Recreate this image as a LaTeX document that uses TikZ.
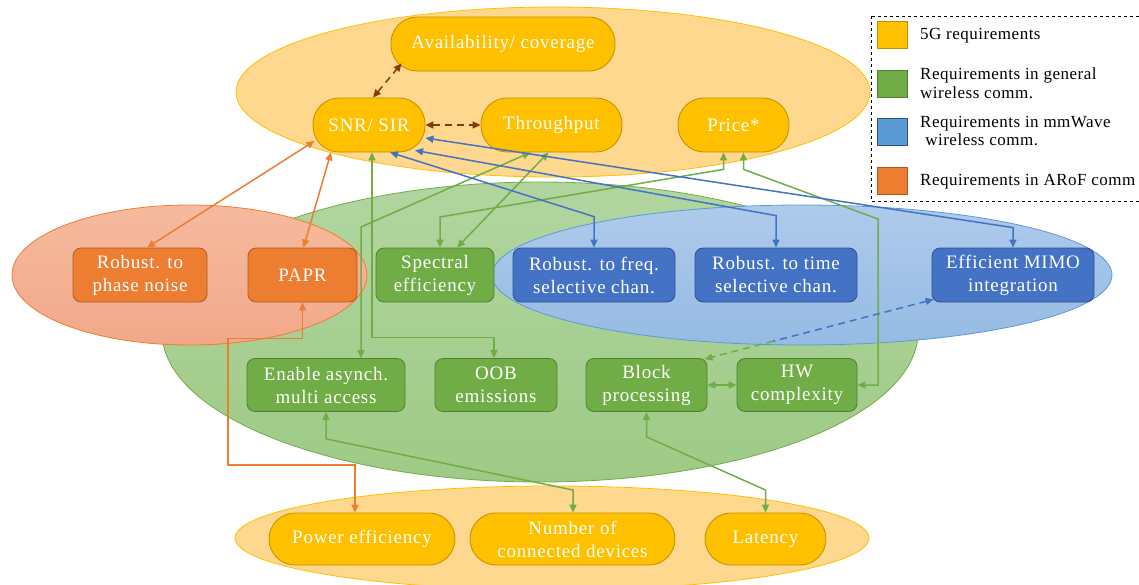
\documentclass[tikz,border=0pt]{standalone}
\usepackage{fontspec}
\setmainfont{Liberation Serif}
\usetikzlibrary{arrows.meta,calc}
\definecolor{yel}{HTML}{FFC000}
\definecolor{yelD}{HTML}{BF9000}
\definecolor{yelE}{RGB}{254,216,143}
\definecolor{grn}{HTML}{70AD47}
\definecolor{grnD}{HTML}{507E32}
\definecolor{grnT}{RGB}{178,213,160}
\definecolor{grnB}{RGB}{158,202,134}
\definecolor{blu}{HTML}{4472C4}
\definecolor{bluD}{HTML}{2F528F}
\definecolor{bluT}{RGB}{174,202,235}
\definecolor{bluB}{RGB}{150,187,228}
\definecolor{bluL}{HTML}{5B9BD5}
\definecolor{org}{HTML}{ED7D31}
\definecolor{orgD}{HTML}{AE5A21}
\definecolor{orgT}{RGB}{246,186,158}
\definecolor{orgB}{RGB}{242,168,138}
\definecolor{brn}{HTML}{843C0C}
\begin{document}
\begin{tikzpicture}[x=1pt,y=-1pt,
  every node/.style={font=\fontsize{19}{23}\selectfont\addfontfeatures{LetterSpace=4}, text=white, align=center, inner sep=0pt},
  pill/.style={draw=yelD, fill=yel, line width=0.8pt, rounded corners=26pt, minimum height=54pt},
  gbox/.style={draw=grnD, fill=grn, line width=0.8pt, rounded corners=8pt, minimum height=54pt},
  bbox/.style={draw=bluD, fill=blu, line width=0.8pt, rounded corners=8pt, minimum height=54pt},
  obox/.style={draw=orgD, fill=org, line width=0.8pt, rounded corners=8pt, minimum height=54pt},
  legsq/.style={line width=1pt, minimum width=30pt, minimum height=27pt},
  legtext/.style={text=black, font=\fontsize{17}{18.5}\selectfont\addfontfeatures{LetterSpace=3}, align=left, anchor=west},
  tip/.tip={Triangle[length=8pt,width=7pt]},
  con/.style={line width=1.5pt, tip-tip},
  dsh/.style={dash pattern=on 7pt off 5pt},
]
\useasboundingbox (0,0) rectangle (1139,584);

% ellipses
\shade[top color=grnT, bottom color=grnB, draw=grn, line width=0.8pt] (540,332) ellipse [x radius=378, y radius=150];
\shade[top color=orgT, bottom color=orgB, draw=org, line width=0.8pt] (189.5,275) ellipse [x radius=177.5, y radius=70];
\shade[top color=bluT, bottom color=bluB, draw=bluL, line width=0.8pt] (802,275) ellipse [x radius=310, y radius=70];
\fill[yelE, draw=yel, line width=0.8pt] (553,92) ellipse [x radius=317, y radius=85];
\fill[yelE, draw=yel, line width=0.8pt] (552,538) ellipse [x radius=317, y radius=52];

% nodes: top
\node[pill, minimum width=224pt] (avail) at (503,44) {Availability/ coverage};
\node[pill, minimum width=112pt] (snr) at (369,125) {SNR/ SIR};
\node[pill, minimum width=141pt] (thr) at (551.5,125) {Throughput};
\node[pill, minimum width=111pt] (price) at (733.5,125) {Price*};

% middle row
\node[obox, minimum width=134pt] (phase) at (140,275) {Robust. to\\phase noise};
\node[obox, minimum width=109pt] (papr) at (302.5,275) {PAPR};
\node[gbox, minimum width=118pt] (spec) at (435,275) {Spectral\\efficiency};
\node[bbox, minimum width=162pt] (freq) at (594,275) {Robust. to freq.\\selective chan.};
\node[bbox, minimum width=162pt] (time) at (776,275) {Robust. to time\\selective chan.};
\node[bbox, minimum width=162pt] (mimo) at (1013,275) {Efficient MIMO\\integration};

% lower green row
\node[gbox, minimum width=158pt, minimum height=53pt] (enable) at (326,385) {Enable asynch.\\multi access};
\node[gbox, minimum width=122pt, minimum height=53pt] (oob) at (496,385) {OOB\\emissions};
\node[gbox, minimum width=121pt, minimum height=53pt] (block) at (646.5,385) {Block\\processing};
\node[gbox, minimum width=120pt, minimum height=53pt] (hw) at (797,385) {HW\\complexity};

% bottom
\node[pill, minimum width=186pt, minimum height=52pt] (power) at (362,539) {Power efficiency};
\node[pill, minimum width=205pt, minimum height=52pt] (number) at (572.5,539) {Number of\\connected devices};
\node[pill, minimum width=121pt, minimum height=52pt] (latency) at (765.5,539) {Latency};

% legend
\draw[dashed, line width=0.8pt] (871,16) rectangle (1150,201);
\node[legsq, fill=yel, draw=yelD] (l1) at (892,35) {};
\node[legsq, fill=grn, draw=grnD] (l2) at (892,83.5) {};
\node[legsq, fill=bluL, draw=bluD] (l3) at (892,131.5) {};
\node[legsq, fill=org, draw=orgD] (l4) at (892,181) {};
\node[legtext] (t1) at (920,36) {5G requirements};
\node[legtext] (t2) at (920,83) {Requirements in general\\wireless comm.};
\node[legtext] (t3) at (920,131) {Requirements in mmWave\\\hspace{0.3em}wireless comm.};
\node[legtext] (t4) at (920,182) {Requirements in ARoF comm};

% brown dashed
\draw[con, brn, dsh] ([xshift=4pt]snr.north) -- ([xshift=11pt,yshift=8pt]avail.south west);
\draw[con, brn, dsh] (snr.east) -- (thr.west);

% orange
\draw[con, org] ([xshift=2pt,yshift=-16pt]snr.west) -- ([xshift=7pt]phase.north);
\draw[con, org] ([xshift=-38pt]snr.south) -- ([xshift=1pt]papr.north);
\draw[con, org] (papr.south) -- ++(0,36) -| (228,465) -| ([xshift=-7pt]power.north);

% green
\draw[con, grn] ([xshift=3pt]snr.south) -- ++(0,185) -| ([xshift=-2pt]oob.north);
\draw[con, grn] ([xshift=-21pt]thr.south) -- (361,227) -- ([xshift=35pt]enable.north);
\draw[con, grn] ([xshift=-3pt]thr.south) -- ([xshift=22pt]spec.north);
\draw[con, grn] ([xshift=-10pt]price.south) -- ++(0,17) -- (440,217) -- ([xshift=5pt]spec.north);
\draw[con, grn] ([xshift=10pt]price.south) -- ++(0,17) -- (878,219) |- (hw.east);
\draw[con, grn] (block.east) -- (hw.west);
\draw[con, grn] (enable.south) -- ++(0,27) -- (573,490) -- ([xshift=0.5pt]number.north);
\draw[con, grn] (block.south) -- ++(0,25) -- (765.5,490) -- (latency.north);

% blue
\draw[con, blu] ([yshift=-13pt]snr.east) -- ([yshift=20pt]mimo.north) -- (mimo.north);
\draw[con, blu] ([xshift=21pt]snr.south) -- ([yshift=31pt]freq.north) -- (freq.north);
\draw[con, blu] ([xshift=46pt,yshift=2pt]snr.south) -- ([yshift=32pt]time.north) -- (time.north);

% dashed MIMO - block (blue to green)
\coordinate (ma) at ([xshift=2pt,yshift=3pt]mimo.south west);
\coordinate (bb) at ([xshift=-3pt,yshift=-1pt]block.north east);
\coordinate (mm) at ($(ma)!0.7!(bb)$);
\draw[line width=1.5pt, blu, dsh, tip-] (ma) -- (mm);
\draw[line width=1.5pt, grn, dsh, -tip] (mm) -- (bb);
\end{tikzpicture}
\end{document}
